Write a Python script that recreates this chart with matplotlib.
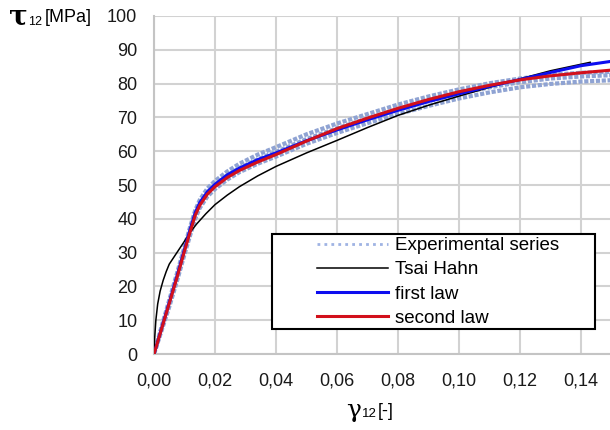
import matplotlib
matplotlib.use("Agg")
import matplotlib.pyplot as plt
from matplotlib.patches import Rectangle

plt.rcParams['font.family'] = ['Liberation Sans', 'DejaVu Sans']

# shear strain grid shared by the test series and the two laws
gamma = [0, 0.0025, 0.005, 0.0075, 0.01, 0.0118, 0.0135, 0.015, 0.0175, 0.02, 0.024,
         0.028, 0.034, 0.04, 0.05, 0.06, 0.07, 0.08, 0.09, 0.10, 0.11, 0.12, 0.13,
         0.14, 0.15]

# experimental series (three specimens), MPa
tau_exp_a = [0, 8.2, 16, 23.8, 31.8, 37.5, 42.5, 45.6, 49, 51.2, 54,
             56.3, 59, 61.2, 65, 68.2, 71, 73.8, 76.2, 78.3, 80.1, 81.5, 82.6,
             83.2, 83.5]
tau_exp_b = [0, 7.6, 15, 22.5, 30.5, 36, 41, 44.3, 47.8, 50.0, 52.8,
             55, 57.6, 59.8, 63.6, 66.8, 69.7, 72.4, 74.8, 77, 78.9, 80.4, 81.5,
             82.1, 82.5]
tau_exp_c = [0, 7, 14, 21.5, 29.5, 35, 40, 43.2, 46.6, 48.8, 51.6,
             53.8, 56.3, 58.4, 62.2, 65.4, 68.3, 71, 73.4, 75.6, 77.4, 78.9, 79.9,
             80.6, 81.0]

tau_first = [0, 7.7, 15.3, 23, 31, 36.8, 41.8, 44.8, 48, 50.2, 53,
             55, 57.5, 59.5, 63.1, 66.3, 69.3, 72.1, 74.7, 77.0, 79.2, 81.2, 83.3,
             85.3, 86.6]
tau_second = [0, 7.5, 15, 22.5, 30.5, 36, 41, 44, 47.3, 49.5, 52.2,
              54.3, 56.8, 59, 63, 66.7, 69.8, 72.7, 75.3, 77.6, 79.5, 81.1, 82.3,
              83.2, 84.0]

# Tsai-Hahn curve
gamma_th = [0, 0.0002, 0.0006, 0.0012, 0.002, 0.003, 0.004, 0.005, 0.0075, 0.01, 0.012,
            0.014, 0.017, 0.02, 0.024, 0.028, 0.034, 0.04, 0.05, 0.06, 0.07, 0.08,
            0.09, 0.10, 0.11, 0.12, 0.13, 0.143]
tau_th = [0, 4.5, 10, 14.8, 18.6, 21.8, 24.4, 26.6, 30, 33.4, 36.2,
          38.5, 41.5, 44.2, 47, 49.5, 52.7, 55.5, 59.5, 63.2, 67.0, 70.6,
          73.6, 76.3, 78.9, 81.4, 83.8, 86.3]

exp_color = '#8fa3d3'
blue = '#0d0def'
red = '#d2101b'

fig = plt.figure(figsize=(6.1, 4.3), dpi=100)
ax = fig.add_axes([0.2525, 0.1767, 0.7475, 0.7861])

for tau in (tau_exp_a, tau_exp_b, tau_exp_c):
    ax.plot(gamma, tau, color=exp_color, lw=3, ls=(0, (1, 0.4)), zorder=2)
ax.plot(gamma_th, tau_th, color='black', lw=1.1, zorder=3)
ax.plot(gamma, tau_first, color=blue, lw=2.2, zorder=3)
ax.plot(gamma, tau_second, color=red, lw=2.2, zorder=3)

ax.set_xlim(0, 0.1495)
ax.set_ylim(0, 100)
ax.set_xticks([0, 0.02, 0.04, 0.06, 0.08, 0.10, 0.12, 0.14])
ax.set_xticklabels(['0,00', '0,02', '0,04', '0,06', '0,08', '0,10', '0,12', '0,14'])
ax.set_yticks(range(0, 101, 10))
ax.tick_params(length=0, labelsize=13, colors='#1a1a1a')
ax.tick_params(axis='y', pad=12)
ax.tick_params(axis='x', pad=13)
ax.grid(True, color='#d2d2d2', lw=1.5)
ax.set_axisbelow(True)
for s in ('top', 'right'):
    ax.spines[s].set_visible(False)
for s in ('left', 'bottom'):
    ax.spines[s].set_color('#c4c4c4')
    ax.spines[s].set_linewidth(1.5)

# legend frame drawn separately so the padding can be uneven
ax.add_patch(Rectangle((272 / 610, 1 - 329 / 430), 323 / 610, 95 / 430,
                       transform=fig.transFigure, facecolor='white',
                       edgecolor='black', lw=1.5, zorder=4))
handles = [
    plt.Line2D([], [], color='#9fb3e3', lw=2, ls=(0, (1, 1.5))),
    plt.Line2D([], [], color='black', lw=1.1),
    plt.Line2D([], [], color=blue, lw=2.2),
    plt.Line2D([], [], color=red, lw=2.2),
]
leg = ax.legend(handles, ['Experimental series', 'Tsai Hahn', 'first law', 'second law'],
                loc='upper left', bbox_to_anchor=(317 / 610, 1 - 237 / 430),
                bbox_transform=fig.transFigure, frameon=False, fontsize=13.5,
                handlelength=3.8, handletextpad=0.37, labelspacing=0.38,
                borderpad=0, borderaxespad=0)
leg.set_zorder(5)

# axis titles
fig.text(9 / 610, 1 - 17 / 430, 'τ', fontsize=20, fontweight='bold', va='center',
         family=['DejaVu Serif'])
fig.text(28 / 610, 1 - 22 / 430, '12', fontsize=9, va='center')
fig.text(45 / 610, 1 - 18 / 430, '[MPa]', fontsize=13, va='center')
fig.text(346 / 610, 1 - 411 / 430, 'γ', fontsize=18, va='center', family=['DejaVu Serif'])
fig.text(362 / 610, 1 - 414 / 430, '12', fontsize=9.5, va='center')
fig.text(378 / 610, 1 - 412 / 430, '[-]', fontsize=13, va='center')

fig.savefig('out.png', dpi=100)
